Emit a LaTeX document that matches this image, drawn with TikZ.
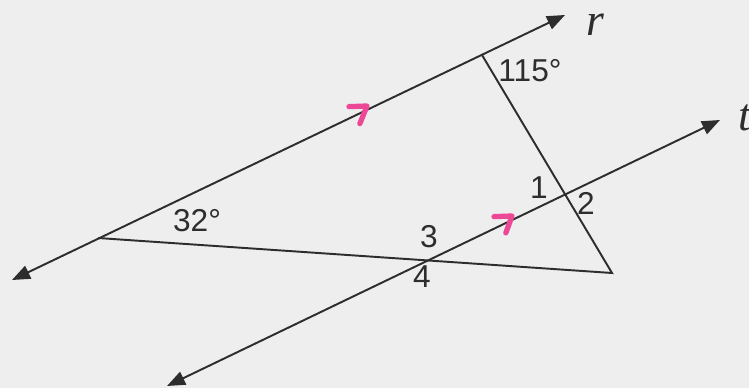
\documentclass[tikz,border=0pt]{standalone}
\usepackage{fontspec}
\setmainfont{Liberation Sans}
\newfontfamily\letterfont{Liberation Serif}
\usetikzlibrary{arrows.meta}
\definecolor{markpink}{RGB}{236,72,150}
\definecolor{inkgray}{RGB}{45,45,45}
\definecolor{paper}{RGB}{238,238,238}
\tikzset{
  line/.style={draw=inkgray,line width=1.1pt},
  parmark/.style={draw=markpink,line width=3pt,line cap=round,line join=round},
  anglabel/.style={font=\fontsize{18}{18}\selectfont,text=inkgray,inner sep=0pt},
  linelabel/.style={font=\letterfont\itshape\fontsize{26}{26}\selectfont,text=inkgray,inner sep=0pt}
}
\begin{document}
\begin{tikzpicture}[x=0.02cm,y=-0.02cm,>={Triangle[length=0.36cm,width=0.28cm]}]
            \fill[paper](0,0)rectangle(749,388);
            \useasboundingbox(0,0)rectangle(749,388);
            \coordinate(R0)at(12,280);
            \coordinate(R1)at(565,15);
            \coordinate(T0)at(167,386);
            \coordinate(T1)at(720,120);
            \coordinate(A)at(98,238);
            \coordinate(B)at(612,273);
            \coordinate(C)at(482,55);
            \coordinate(M0)at(367,106);
            \coordinate(M1)at(512,216);
            \draw[line,<->](R0)--(R1);
            \draw[line,<->](T0)--(T1);
            \draw[line](A)--(B)--(C);
            \draw[parmark](M0)++(178:18)--(M0)--++(112:19);
            \draw[parmark](M1)++(178:18)--(M1)--++(110:18);
            \node[linelabel](r)at(595,25){r};
            \node[linelabel,anchor=west](t)at(738,118){t};
            \node[anglabel](a115)at(530,71){115°};
            \node[anglabel](a32)at(197,221){32°};
            \node[anglabel](n1)at(539,188){1};
            \node[anglabel](n2)at(586,203){2};
            \node[anglabel](n3)at(429,237){3};
            \node[anglabel](n4)at(422,277){4};
        \end{tikzpicture}
\end{document}
